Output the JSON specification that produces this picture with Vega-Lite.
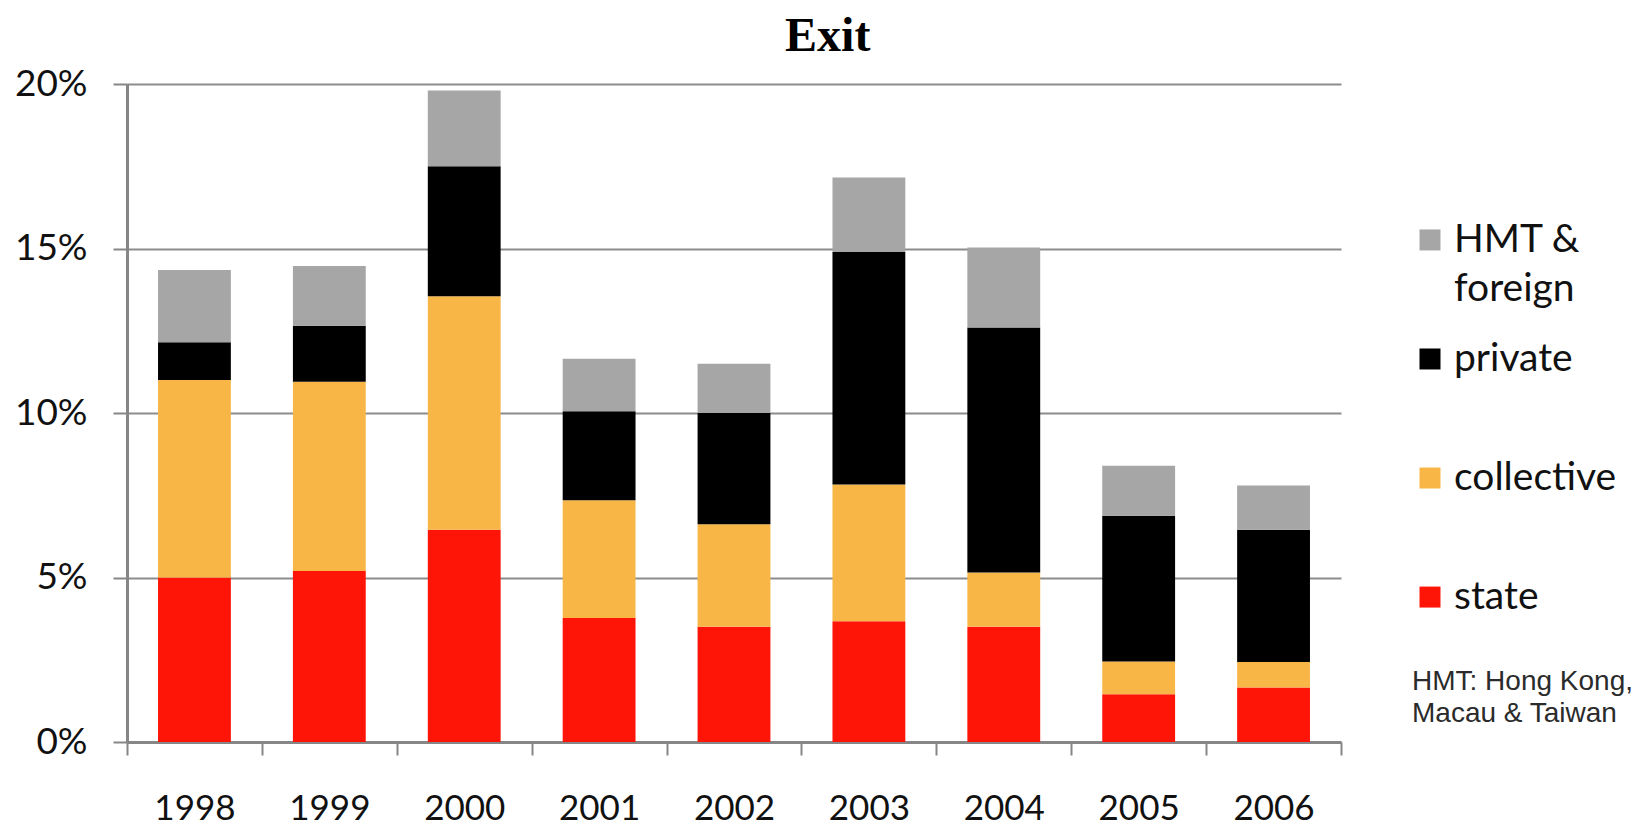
{
  "$schema": "https://vega.github.io/schema/vega-lite/v6.json",
  "background": "white",
  "padding": {"left": 14, "top": 13, "right": 0, "bottom": 0},
  "bounds": "flush",
  "spacing": 71,
  "title": {"text": "Exit", "font": "Liberation Serif", "fontSize": 48, "fontWeight": "bold", "color": "#000000", "anchor": "middle", "offset": 4, "dx": 4},
  "datasets": {
    "exit": [
      {"year": "1998", "series": "state", "value": 5.0},
      {"year": "1998", "series": "collective", "value": 6.0},
      {"year": "1998", "series": "private", "value": 1.15},
      {"year": "1998", "series": "HMT & foreign", "value": 2.2},
      {"year": "1999", "series": "state", "value": 5.2},
      {"year": "1999", "series": "collective", "value": 5.75},
      {"year": "1999", "series": "private", "value": 1.7},
      {"year": "1999", "series": "HMT & foreign", "value": 1.82},
      {"year": "2000", "series": "state", "value": 6.45},
      {"year": "2000", "series": "collective", "value": 7.1},
      {"year": "2000", "series": "private", "value": 3.95},
      {"year": "2000", "series": "HMT & foreign", "value": 2.3},
      {"year": "2001", "series": "state", "value": 3.77},
      {"year": "2001", "series": "collective", "value": 3.58},
      {"year": "2001", "series": "private", "value": 2.7},
      {"year": "2001", "series": "HMT & foreign", "value": 1.6},
      {"year": "2002", "series": "state", "value": 3.5},
      {"year": "2002", "series": "collective", "value": 3.12},
      {"year": "2002", "series": "private", "value": 3.38},
      {"year": "2002", "series": "HMT & foreign", "value": 1.5},
      {"year": "2003", "series": "state", "value": 3.67},
      {"year": "2003", "series": "collective", "value": 4.16},
      {"year": "2003", "series": "private", "value": 7.06},
      {"year": "2003", "series": "HMT & foreign", "value": 2.27},
      {"year": "2004", "series": "state", "value": 3.5},
      {"year": "2004", "series": "collective", "value": 1.65},
      {"year": "2004", "series": "private", "value": 7.45},
      {"year": "2004", "series": "HMT & foreign", "value": 2.43},
      {"year": "2005", "series": "state", "value": 1.45},
      {"year": "2005", "series": "collective", "value": 1.0},
      {"year": "2005", "series": "private", "value": 4.43},
      {"year": "2005", "series": "HMT & foreign", "value": 1.52},
      {"year": "2006", "series": "state", "value": 1.66},
      {"year": "2006", "series": "collective", "value": 0.77},
      {"year": "2006", "series": "private", "value": 4.02},
      {"year": "2006", "series": "HMT & foreign", "value": 1.35}
    ],
    "legend": [
      {"series": "HMT & foreign", "label": "HMT &\nforeign"},
      {"series": "private", "label": "private"},
      {"series": "collective", "label": "collective"},
      {"series": "state", "label": "state"}
    ]
  },
  "hconcat": [
    {
      "width": 1214,
      "height": 658,
      "data": {"name": "exit"},
      "transform": [
        {"calculate": "indexof(['state','collective','private','HMT & foreign'], datum.series)", "as": "stackOrder"}
      ],
      "mark": {"type": "bar", "width": {"band": 0.54}},
      "encoding": {
        "x": {
          "field": "year", "type": "ordinal",
          "scale": {"paddingInner": 0, "paddingOuter": 0},
          "axis": {
            "title": null, "labelAngle": 0, "tickBand": "extent", "grid": false,
            "domainColor": "#868686", "domainWidth": 3,
            "tickColor": "#868686", "tickWidth": 2, "tickSize": 13,
            "labelPadding": 36, "labelFont": "Lato", "labelFontSize": 35, "labelColor": "#111111"
          }
        },
        "y": {
          "field": "value", "type": "quantitative", "stack": "zero",
          "scale": {"domain": [0, 20], "nice": false},
          "axis": {
            "title": null, "values": [0, 5, 10, 15, 20], "labelExpr": "datum.value + '%'",
            "grid": true, "gridColor": "#8c8c8c", "gridWidth": 2,
            "domainColor": "#868686", "domainWidth": 3,
            "tickColor": "#868686", "tickWidth": 2, "tickSize": 14,
            "labelPadding": 26, "labelFont": "Lato", "labelFontSize": 37, "labelColor": "#111111"
          }
        },
        "color": {
          "field": "series", "type": "nominal",
          "scale": {"domain": ["HMT & foreign", "private", "collective", "state"], "range": ["#a6a6a6", "#000000", "#f8b647", "#ff1408"]},
          "legend": null
        },
        "order": {"field": "stackOrder", "type": "quantitative", "sort": "ascending"}
      }
    },
    {
      "width": 36,
      "height": 669,
      "data": {"name": "legend"},
      "title": {"text": ["HMT: Hong Kong,", "Macau & Taiwan"], "orient": "bottom", "anchor": "start", "font": "Liberation Sans", "fontSize": 28, "fontWeight": "normal", "color": "#2b2b2b", "offset": -85, "lineHeight": 32},
      "encoding": {
        "y": {"field": "series", "type": "nominal", "scale": {"type": "band", "domain": ["HMT & foreign", "private", "collective", "state"], "paddingInner": 0, "paddingOuter": 0.81}, "axis": null}
      },
      "layer": [
        {
          "mark": {"type": "point", "shape": "square", "size": 441, "filled": true, "opacity": 1},
          "encoding": {
            "color": {
              "field": "series", "type": "nominal",
              "scale": {"domain": ["HMT & foreign", "private", "collective", "state"], "range": ["#a6a6a6", "#000000", "#f8b647", "#ff1408"]},
              "legend": null
            }
          }
        },
        {
          "mark": {"type": "text", "align": "left", "baseline": "alphabetic", "dx": 24, "dy": 12, "font": "Lato", "fontSize": 39, "lineHeight": 49, "lineBreak": "\n", "color": "#111111"},
          "encoding": {"text": {"field": "label", "type": "nominal"}}
        }
      ]
    }
  ],
  "config": {"view": {"stroke": null}}
}
